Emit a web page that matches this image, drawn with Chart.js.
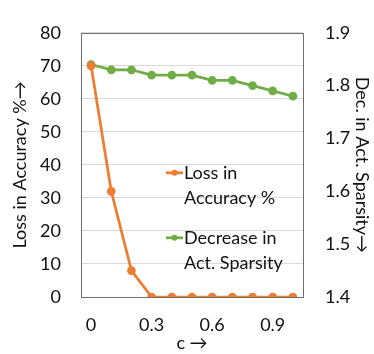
<!DOCTYPE html>
<html>
<head>
  <title>Loss in Accuracy vs c</title>
  <script src="https://cdn.jsdelivr.net/npm/chart.js@4.4.0/dist/chart.umd.min.js"></script>
  <style>
    body { margin: 0; background: #fff; }
    #wrap { width: 374px; height: 354px; }
  </style>
</head>
<body>
  <div id="wrap"><canvas id="chart" width="374" height="354"></canvas></div>
  <script>
    // values
    var cValues = ['0', '0.1', '0.2', '0.3', '0.4', '0.5', '0.6', '0.7', '0.8', '0.9', '1'];
    var shownTicks = ['0', '0.3', '0.6', '0.9'];
    var lossAccuracy = [70, 32, 8, 0, 0, 0, 0, 0, 0, 0, 0];
    var decSparsity = [1.84, 1.83, 1.83, 1.82, 1.82, 1.82, 1.81, 1.81, 1.80, 1.79, 1.78];
    var legendLines = [['Loss in', 'Accuracy %'], ['Decrease in', 'Act. Sparsity']];

    var orange = '#ED7D31';
    var green = '#70AD47';
    var font = { family: 'Lato, "Open Sans", sans-serif', size: 18 };

    Chart.defaults.color = '#111';

    // box around the plot + the in-plot legend
    var framePlugin = {
      id: 'frame',
      afterDatasetsDraw: function(chart) {
        var ctx = chart.ctx, a = chart.chartArea;
        ctx.save();
        ctx.strokeStyle = '#6e6e6e';
        ctx.lineWidth = 1;
        ctx.strokeRect(Math.round(a.left) + 0.5, Math.round(a.top) + 0.5,
          Math.round(a.right - a.left), Math.round(a.bottom - a.top));

        var colors = [orange, green];
        var x0 = a.left + 85, y0 = a.top + 140;
        ctx.font = font.size + 'px ' + font.family;
        ctx.textBaseline = 'middle';
        ctx.textAlign = 'left';
        legendLines.forEach(function(lines, i) {
          var y = y0 + i * 65;
          ctx.strokeStyle = colors[i];
          ctx.fillStyle = colors[i];
          ctx.lineWidth = 2.75;
          ctx.beginPath();
          ctx.moveTo(x0, y);
          ctx.lineTo(x0 + 17, y);
          ctx.stroke();
          ctx.beginPath();
          ctx.arc(x0 + 8.5, y, 3, 0, Math.PI * 2);
          ctx.fill();
          ctx.fillStyle = '#111';
          lines.forEach(function(t, j) {
            ctx.fillText(t, x0 + 18, y + j * 25);
          });
        });
        ctx.restore();
      }
    };

    new Chart(document.getElementById('chart'), {
      type: 'line',
      data: {
        labels: cValues,
        datasets: [{
          label: 'Loss in Accuracy %',
          data: lossAccuracy,
          yAxisID: 'y',
          borderColor: orange,
          backgroundColor: orange,
          borderWidth: 2.75,
          pointRadius: 3,
          tension: 0
        }, {
          label: 'Decrease in Act. Sparsity',
          data: decSparsity,
          yAxisID: 'y1',
          borderColor: green,
          backgroundColor: green,
          borderWidth: 2.75,
          pointRadius: 3,
          tension: 0
        }]
      },
      options: {
        responsive: false,
        animation: false,
        layout: { padding: { top: 17, left: 0, right: 0, bottom: 0 } },
        plugins: { legend: { display: false }, tooltip: { enabled: false } },
        scales: {
          x: {
            offset: true,
            grid: { display: false, drawTicks: false },
            border: { display: false },
            ticks: {
              font: font, padding: 17, autoSkip: false, maxRotation: 0,
              callback: function(v, i) {
                var l = cValues[i];
                return shownTicks.indexOf(l) >= 0 ? l : '';
              }
            },
            title: { display: true, text: 'c \u2192', font: font, padding: { top: 0, bottom: 0 } },
            afterFit: function(s) { s.height = 57; }
          },
          y: {
            position: 'left',
            min: 0, max: 80,
            grid: { color: '#d9d9d9', drawTicks: false },
            border: { display: false },
            ticks: { font: font, stepSize: 10, padding: 20 },
            title: { display: true, text: 'Loss in Accuracy %\u2192', font: font, padding: { top: 9, bottom: 0 } },
            afterFit: function(s) { s.width = 81; }
          },
          y1: {
            position: 'right',
            min: 1.4, max: 1.9,
            grid: { display: false, drawTicks: false },
            border: { display: false },
            ticks: { font: font, stepSize: 0.1, padding: 22, callback: function(v) { return v.toFixed(1); } },
            title: { display: true, text: 'Dec. in Act. Sparsity\u2192', font: font, padding: { top: 1, bottom: 0 } },
            afterFit: function(s) { s.width = 71; }
          }
        }
      },
      plugins: [framePlugin]
    });
  </script>
</body>
</html>
